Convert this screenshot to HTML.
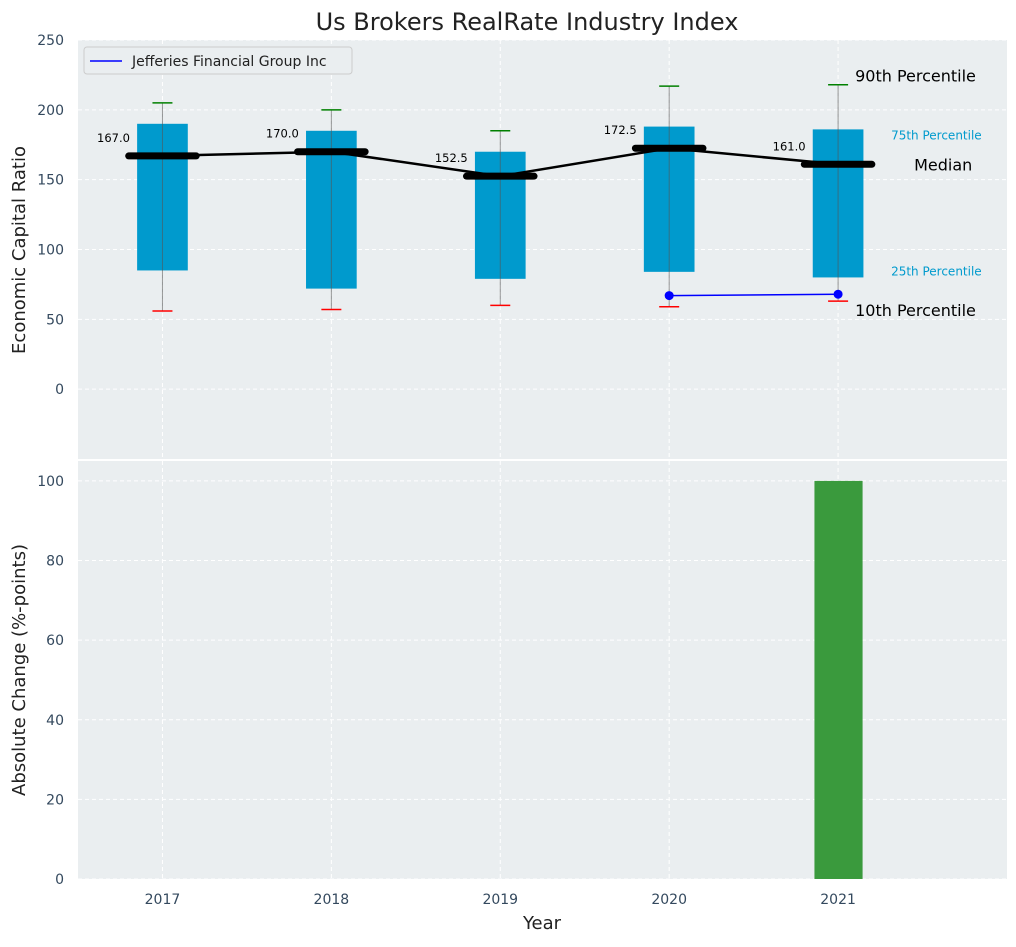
<!DOCTYPE html>
<html><head><meta charset="utf-8"><style>
body{margin:0;background:#fff;font-family:"Liberation Sans","DejaVu Sans",sans-serif;}
</style></head><body>
<svg id="chart" width="1016" height="942" xmlns="http://www.w3.org/2000/svg" font-family="DejaVu Sans, Liberation Sans, sans-serif"></svg>
<script>
const years=[2017,2018,2019,2020,2021];
const p10=[56,57,60,59,63];
const p25=[85,72,79,84,80];
const med=[167,170,152.5,172.5,161];
const p75=[190,185,170,188,186];
const p90=[205,200,185,217,218];
const jefYears=[2020,2021];
const jefVals=[67,68];
const changeYears=[2021];
const changeVals=[100];
const topTicks=[0,50,100,150,200,250];
const botTicks=[0,20,40,60,80,100];

const svg=document.getElementById('chart');
const NS='http://www.w3.org/2000/svg';
function el(tag,attrs,txt){const e=document.createElementNS(NS,tag);for(const k in attrs)e.setAttribute(k,attrs[k]);if(txt!==undefined)e.textContent=txt;svg.appendChild(e);return e;}
const L=78,R=1007;
const x=v=>L+(v-2016.5)/(2022-2016.5)*(R-L);
const T0=40,T1=459,B0=461,B1=879;
const yt=v=>T0+(250-v)/300*(T1-T0);
const yb=v=>B1-v/105*(B1-B0);

let e;
e=el('rect',{x:L,y:T0,width:R-L,height:T1-T0,fill:'#eaeef0'});

e=el('rect',{x:L,y:B0,width:R-L,height:B1-B0,fill:'#eaeef0'});


topTicks.forEach(t=>{
 e=el('line',{x1:L,x2:R,y1:yt(t),y2:yt(t),stroke:'#fff','stroke-dasharray':'4,3','stroke-width':1});
 
 e=el('text',{x:L-14,y:yt(t)+5,'text-anchor':'end','font-size':14,fill:'#34495e'},t);
 
});
botTicks.forEach(t=>{
 e=el('line',{x1:L,x2:R,y1:yb(t),y2:yb(t),stroke:'#fff','stroke-dasharray':'4,3','stroke-width':1});
 
 e=el('text',{x:L-14,y:yb(t)+5,'text-anchor':'end','font-size':14,fill:'#34495e'},t);
 
});
years.forEach(yr=>{
 e=el('line',{x1:x(yr),x2:x(yr),y1:T0,y2:T1,stroke:'#fff','stroke-dasharray':'4,3'});
 
 e=el('line',{x1:x(yr),x2:x(yr),y1:B0,y2:B1,stroke:'#fff','stroke-dasharray':'4,3'});
 
 e=el('text',{x:x(yr),y:904,'text-anchor':'middle','font-size':14,fill:'#34495e'},yr);
 
});

const bw=0.15;
years.forEach((yr,i)=>{
 e=el('rect',{x:x(yr-bw),y:yt(p75[i]),width:x(yr+bw)-x(yr-bw),height:yt(p25[i])-yt(p75[i]),fill:'#009acd'});
 
 e=el('line',{x1:x(yr),x2:x(yr),y1:yt(p90[i]),y2:yt(p10[i]),stroke:'#555','stroke-width':1,opacity:0.6});
 
 e=el('line',{x1:x(yr)-10,x2:x(yr)+10,y1:yt(p90[i]),y2:yt(p90[i]),stroke:'green','stroke-width':1.5});
 
 e=el('line',{x1:x(yr)-10,x2:x(yr)+10,y1:yt(p10[i]),y2:yt(p10[i]),stroke:'red','stroke-width':1.5});
 
});
e=el('polyline',{points:years.map((yr,i)=>x(yr)+','+yt(med[i])).join(' '),fill:'none',stroke:'#000','stroke-width':2.5});

years.forEach((yr,i)=>{
 e=el('line',{x1:x(yr-0.2),x2:x(yr+0.2),y1:yt(med[i]),y2:yt(med[i]),stroke:'#000','stroke-width':7,'stroke-linecap':'round'});
 
 e=el('text',{x:x(yr-0.29),y:yt(med[i])-14,'text-anchor':'middle','font-size':11.5,fill:'#000'},med[i].toFixed(1));
 
});
e=el('polyline',{points:jefYears.map((yr,i)=>x(yr)+','+yt(jefVals[i])).join(' '),fill:'none',stroke:'blue','stroke-width':1.5});

jefYears.forEach((yr,i)=>{
 e=el('circle',{cx:x(yr),cy:yt(jefVals[i]),r:4.5,fill:'blue'});
 
});
const ax=x(2021)+17;
[['90th Percentile',p90[4],16,'#000',ax,-3],['75th Percentile',p75[4],12,'#009acd',ax+36,10],['Median',med[4],16,'#000',ax+59,6],['25th Percentile',p25[4],12,'#009acd',ax+36,-2],['10th Percentile',p10[4],16,'#000',ax,15]].forEach(a=>{
 e=el('text',{x:a[4],y:yt(a[1])+a[5],'font-size':a[2],fill:a[3]},a[0]);
 
});
changeYears.forEach((yr,i)=>{
 e=el('rect',{x:x(yr-0.14),y:yb(changeVals[i]),width:x(yr+0.145)-x(yr-0.14),height:yb(0)-yb(changeVals[i]),fill:'#3a9a3d'});
 
});
e=el('rect',{x:84,y:47,width:268,height:27,rx:3,fill:'#eaeef0',stroke:'#ccc'});

e=el('line',{x1:90,x2:122,y1:61,y2:61,stroke:'blue','stroke-width':1.5});

e=el('text',{x:132,y:66,'font-size':14,fill:'#222'},'Jefferies Financial Group Inc');

e=el('text',{x:527,y:30,'text-anchor':'middle','font-size':24,fill:'#222'},'Us Brokers RealRate Industry Index');

e=el('text',{x:542,y:929,'text-anchor':'middle','font-size':18,fill:'#222'},'Year');

e=el('text',{x:25,y:250,'text-anchor':'middle','font-size':18,fill:'#222',transform:'rotate(-90 25 250)'},'Economic Capital Ratio');

e=el('text',{x:25,y:670,'text-anchor':'middle','font-size':18,fill:'#222',transform:'rotate(-90 25 670)'},'Absolute Change (%-points)');

</script>
</body></html>
